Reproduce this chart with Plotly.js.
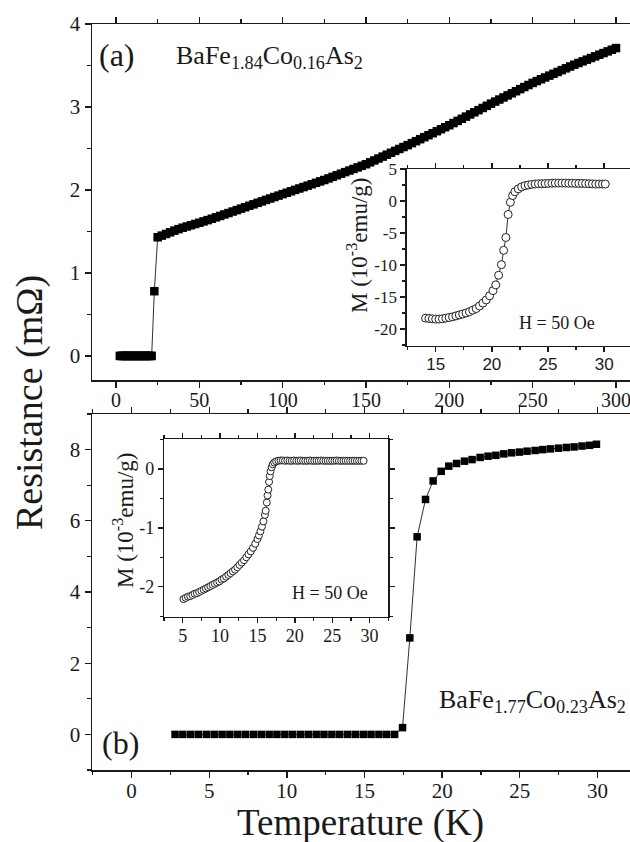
<!DOCTYPE html>
<html>
<head>
<meta charset="utf-8">
<script src="https://cdn.plot.ly/plotly-3.0.1.min.js"></script>
<style>html,body{margin:0;padding:0;background:#fff;}#chart{width:630px;height:842px;}</style>
</head>
<body>
<div id="chart"></div>
<script>
// ---------- Panel (a): BaFe1.84Co0.16As2, resistance vs T (0-300 K) ----------
const tempA = [2.3,3.1,3.9,4.7,5.5,6.3,7.1,7.9,8.7,9.5,10.3,11.1,11.9,12.7,13.5,14.3,15.1,15.9,16.7,17.5,18.3,19.1,19.9,20.7,21.4,
  23.0,25.0,
  27.5,30,32.5,35,37.5,40,42.5,45,47.5,50,52.5,55,57.5,60,62.5,65,67.5,70,72.5,75,77.5,80,82.5,85,87.5,90,92.5,95,97.5,100,
  102.5,105,107.5,110,112.5,115,117.5,120,122.5,125,127.5,130,132.5,135,137.5,140,142.5,145,147.5,150,
  152.5,155,157.5,160,162.5,165,167.5,170,172.5,175,177.5,180,182.5,185,187.5,190,192.5,195,197.5,200,
  202.5,205,207.5,210,212.5,215,217.5,220,222.5,225,227.5,230,232.5,235,237.5,240,242.5,245,247.5,250,
  252.5,255,257.5,260,262.5,265,267.5,270,272.5,275,277.5,280,282.5,285,287.5,290,292.5,295,297.5,300];
const resA = [0,0,0,0,0,0,0,0,0,0,0,0,0,0,0,0,0,0,0,0,0,0,0,0,0,
  0.78,1.43,
  1.45,1.47,1.49,1.51,1.528,1.545,1.56,1.575,1.59,1.605,1.621,1.637,1.653,1.67,1.687,1.705,1.722,1.74,1.757,1.775,1.792,1.81,1.827,1.845,1.862,1.88,1.897,1.915,1.932,1.95,
  1.967,1.984,2.001,2.018,2.035,2.052,2.069,2.086,2.103,2.12,2.139,2.158,2.177,2.196,2.215,2.234,2.253,2.272,2.291,2.31,
  2.333,2.356,2.379,2.402,2.425,2.448,2.471,2.494,2.517,2.54,2.564,2.588,2.612,2.636,2.66,2.684,2.708,2.732,2.756,2.78,
  2.806,2.832,2.858,2.884,2.91,2.936,2.962,2.988,3.014,3.04,3.065,3.09,3.115,3.14,3.165,3.19,3.215,3.24,3.265,3.29,
  3.312,3.334,3.356,3.378,3.4,3.422,3.444,3.466,3.488,3.51,3.53,3.55,3.57,3.59,3.61,3.63,3.65,3.67,3.69,3.71];

// Inset (a): magnetization, H = 50 Oe
const tempInsetA = [14.1,14.4,14.7,15.0,15.3,15.6,15.9,16.2,16.5,16.8,17.1,17.4,17.7,18.0,18.3,18.6,18.9,19.2,19.5,19.8,20.1,20.35,20.6,20.85,21.05,21.25,21.45,21.65,21.85,22.05,22.35,22.65,22.95,23.25,23.55,23.85,24.15,24.45,24.75,25.05,25.35,25.65,25.95,26.25,26.55,26.85,27.15,27.45,27.75,28.05,28.35,28.65,28.95,29.25,29.55,29.85,30.1];
const magInsetA = [-18.3,-18.35,-18.4,-18.45,-18.45,-18.4,-18.3,-18.2,-18.1,-17.95,-17.8,-17.65,-17.5,-17.3,-17.05,-16.8,-16.4,-15.95,-15.45,-14.8,-14.0,-13.1,-11.6,-9.95,-7.7,-5.7,-2.1,-0.2,0.85,1.45,1.9,2.2,2.4,2.5,2.6,2.65,2.7,2.7,2.72,2.75,2.78,2.8,2.8,2.8,2.8,2.78,2.78,2.76,2.75,2.75,2.72,2.7,2.68,2.65,2.65,2.65,2.65];

// ---------- Panel (b): BaFe1.77Co0.23As2, resistance vs T (0-30 K) ----------
const tempB = [2.80,3.30,3.81,4.31,4.82,5.32,5.83,6.33,6.84,7.34,7.85,8.35,8.86,9.36,9.87,10.37,10.88,11.38,11.89,12.39,12.90,13.40,13.91,14.41,14.92,15.42,15.93,16.43,16.94,
  17.45,17.92,18.39,18.93,19.42,19.94,
  20.43,20.93,21.44,21.93,22.45,22.96,23.46,23.97,24.47,24.98,25.47,25.99,26.48,26.97,27.49,28.0,28.5,29.01,29.5,29.94];
const resB = [0,0,0,0,0,0,0,0,0,0,0,0,0,0,0,0,0,0,0,0,0,0,0,0,0,0,0,0,0,
  0.19,2.71,5.55,6.6,7.12,7.39,
  7.535,7.61,7.675,7.72,7.78,7.815,7.84,7.88,7.91,7.93,7.955,7.975,8.00,8.02,8.04,8.06,8.075,8.10,8.12,8.15];

// Inset (b): magnetization, H = 50 Oe
const tempInsetB = [5.1,5.4,5.7,6.0,6.3,6.6,6.9,7.2,7.5,7.8,8.1,8.4,8.7,9.0,9.3,9.6,9.9,10.2,10.5,10.8,11.1,11.4,11.7,12.0,12.3,12.6,12.9,13.2,13.5,13.8,14.1,14.4,14.7,15.0,15.2,15.4,15.6,15.8,16.0,16.1,16.25,16.35,16.45,16.55,16.65,16.75,16.9,17.05,17.25,17.5,17.8,
  18.1,18.4,18.7,19.0,19.3,19.6,19.9,20.2,20.5,20.8,21.1,21.4,21.7,22.0,22.3,22.6,22.9,23.2,23.5,23.8,24.1,24.4,24.7,25.0,25.3,25.6,25.9,26.2,26.5,26.8,27.1,27.4,27.7,28.0,28.3,28.6,28.9,29.2];
const magInsetB = [-2.21,-2.19,-2.17,-2.16,-2.14,-2.12,-2.11,-2.09,-2.07,-2.05,-2.03,-2.01,-1.99,-1.97,-1.95,-1.93,-1.91,-1.88,-1.86,-1.83,-1.80,-1.77,-1.74,-1.71,-1.67,-1.63,-1.59,-1.55,-1.50,-1.45,-1.40,-1.34,-1.27,-1.19,-1.13,-1.06,-0.98,-0.89,-0.78,-0.71,-0.57,-0.45,-0.35,-0.22,-0.12,-0.04,0.03,0.08,0.11,0.13,0.14,
  0.145,0.145,0.14,0.145,0.14,0.14,0.145,0.14,0.14,0.145,0.14,0.14,0.14,0.145,0.14,0.14,0.14,0.14,0.145,0.14,0.14,0.14,0.14,0.14,0.14,0.145,0.14,0.14,0.14,0.14,0.14,0.14,0.14,0.14,0.14,0.14,0.14,0.14];

// ---------- Tick labels (hyphen minus, as in the reference) ----------
const insetATickVals = [-20,-15,-10,-5,0,5];
const insetATickText = ['-20','-15','-10','-5','0','5'];
const insetBTickVals = [-2,-1,0];
const insetBTickText = ['-2','-1','0'];

// ---------- Texts ----------
const labelA = '(a)';
const labelB = '(b)';
const formulaA = 'BaFe<sub>1.84</sub>Co<sub>0.16</sub>As<sub>2</sub>';
const formulaB = 'BaFe<sub>1.77</sub>Co<sub>0.23</sub>As<sub>2</sub>';
const fieldText = 'H = 50 Oe';
const yTitleMain = 'Resistance (mΩ)';
const xTitleMain = 'Temperature (K)';
const yTitleInset = 'M (10<sup>-3</sup>emu/g)';

// ---------- Layout helpers ----------
const W = 630, H = 842;
const px = x => x / W;
const py = y => 1 - y / H;
const SERIF = '"Liberation Serif", "Times New Roman", serif';
const SANS = '"Liberation Sans", Arial, sans-serif';
const INK = '#1a1a1a';

function minorTicks(dt, len) {
  return {ticks: 'outside', ticklen: len, tickwidth: 1.2, tickcolor: INK, dtick: dt, tick0: 0, showgrid: false};
}
function axis(opts) {
  return Object.assign({
    showgrid: false, zeroline: false, showline: true, linecolor: INK, linewidth: 1.5,
    ticks: 'outside', ticklen: 6, tickwidth: 1.4, tickcolor: INK,
    tickfont: {family: SERIF, size: 21, color: INK},
    ticklabeloverflow: 'allow', fixedrange: true
  }, opts);
}

const traces = [
  {x: tempA, y: resA, xaxis: 'x', yaxis: 'y', mode: 'lines+markers', type: 'scatter',
   line: {color: INK, width: 0.9}, marker: {symbol: 'square', size: 8.5, color: '#000'}},
  {x: tempInsetA, y: magInsetA, xaxis: 'x2', yaxis: 'y2', mode: 'lines+markers', type: 'scatter',
   line: {color: INK, width: 0.9}, marker: {symbol: 'circle', size: 8, color: '#fff', line: {color: '#222', width: 1}}},
  {x: tempB, y: resB, xaxis: 'x3', yaxis: 'y3', mode: 'lines+markers', type: 'scatter',
   line: {color: INK, width: 0.9}, marker: {symbol: 'square', size: 7.5, color: '#000'}},
  {x: tempInsetB, y: magInsetB, xaxis: 'x4', yaxis: 'y4', mode: 'lines+markers', type: 'scatter',
   line: {color: INK, width: 0.9}, marker: {symbol: 'circle', size: 7, color: '#fff', line: {color: '#222', width: 1}}}
];

const layout = {
  width: W, height: H, showlegend: false,
  margin: {l: 0, r: 0, t: 0, b: 0},
  paper_bgcolor: '#fff', plot_bgcolor: 'rgba(0,0,0,0)',
  // main (a)
  xaxis: axis({domain: [px(92), 1], range: [-14.4, 308.4], anchor: 'y', mirror: 'allticks',
    tickvals: [0,50,100,150,200,250,300], tickfont: {family: SERIF, size: 20, color: INK},
    ticklabelstandoff: -5, minor: minorTicks(25, 3.5)}),
  yaxis: axis({domain: [py(380), py(24)], range: [-0.29, 4.0], anchor: 'x',
    tickvals: [0,1,2,3,4], minor: minorTicks(0.5, 3.5)}),
  // inset (a)
  xaxis2: axis({domain: [px(406.5), 1], range: [12.4, 32.3], anchor: 'y2', mirror: 'allticks',
    tickvals: [15,20,25,30], tickfont: {family: SANS, size: 17, color: INK}, ticklen: 5, linewidth: 1.2,
    ticklabelstandoff: -3, minor: minorTicks(2.5, 3)}),
  yaxis2: axis({domain: [py(346), py(169)], range: [-22.65, 5], anchor: 'x2',
    tickvals: insetATickVals, ticktext: insetATickText, tickmode: 'array',
    tickfont: {family: SERIF, size: 17, color: INK}, ticklen: 5, linewidth: 1.2,
    minor: minorTicks(2.5, 3)}),
  // main (b)
  xaxis3: axis({domain: [px(92), 1], range: [-2.55, 32.1], anchor: 'y3', mirror: 'allticks',
    tickvals: [0,5,10,15,20,25,30], ticklabelstandoff: -5, minor: minorTicks(2.5, 3.5)}),
  yaxis3: axis({domain: [py(770), py(414)], range: [-1, 9], anchor: 'x3',
    tickvals: [0,2,4,6,8], minor: minorTicks(1, 3.5)}),
  // inset (b)
  xaxis4: axis({domain: [px(164), px(388.3)], range: [2.5, 32.5], anchor: 'y4', mirror: 'allticks',
    tickvals: [5,10,15,20,25,30], tickfont: {family: SERIF, size: 18, color: INK}, ticklen: 5, linewidth: 1.2,
    ticklabelstandoff: -3, minor: minorTicks(2.5, 3)}),
  yaxis4: axis({domain: [py(616.7), py(439.3)], range: [-2.51, 0.505], anchor: 'x4', mirror: 'allticks',
    tickvals: insetBTickVals, ticktext: insetBTickText, tickmode: 'array',
    tickfont: {family: SERIF, size: 18, color: INK}, ticklen: 5, linewidth: 1.2,
    minor: minorTicks(0.5, 3)}),
  annotations: [
    {text: labelA, xref: 'paper', yref: 'paper', x: px(117), y: py(55), xanchor: 'center', yanchor: 'middle', showarrow: false,
     font: {family: SERIF, size: 32, color: INK}},
    {text: formulaA, xref: 'paper', yref: 'paper', x: px(174), y: py(57), xanchor: 'left', yanchor: 'middle', showarrow: false,
     font: {family: SERIF, size: 26, color: INK}},
    {text: labelB, xref: 'paper', yref: 'paper', x: px(120), y: py(743), xanchor: 'center', yanchor: 'middle', showarrow: false,
     font: {family: SERIF, size: 32, color: INK}},
    {text: formulaB, xref: 'paper', yref: 'paper', x: px(437), y: py(701), xanchor: 'left', yanchor: 'middle', showarrow: false,
     font: {family: SERIF, size: 26, color: INK}},
    {text: fieldText, xref: 'paper', yref: 'paper', x: px(557), y: py(323), xanchor: 'center', yanchor: 'middle', showarrow: false,
     font: {family: SERIF, size: 18, color: INK}},
    {text: fieldText, xref: 'paper', yref: 'paper', x: px(330), y: py(593), xanchor: 'center', yanchor: 'middle', showarrow: false,
     font: {family: SERIF, size: 18, color: INK}},
    {text: yTitleMain, xref: 'paper', yref: 'paper', x: px(30), y: py(403), xanchor: 'center', yanchor: 'middle', showarrow: false,
     textangle: -90, font: {family: SERIF, size: 38, color: INK}},
    {text: xTitleMain, xref: 'paper', yref: 'paper', x: px(360), y: py(823), xanchor: 'center', yanchor: 'middle', showarrow: false,
     font: {family: SERIF, size: 37, color: INK}},
    {text: yTitleInset, xref: 'paper', yref: 'paper', x: px(358), y: py(246), xanchor: 'center', yanchor: 'middle', showarrow: false,
     textangle: -90, font: {family: SERIF, size: 23, color: INK}},
    {text: yTitleInset, xref: 'paper', yref: 'paper', x: px(123), y: py(521), xanchor: 'center', yanchor: 'middle', showarrow: false,
     textangle: -90, font: {family: SERIF, size: 23, color: INK}}
  ]
};

Plotly.newPlot('chart', traces, layout, {displayModeBar: false, staticPlot: true});
</script>
</body>
</html>
